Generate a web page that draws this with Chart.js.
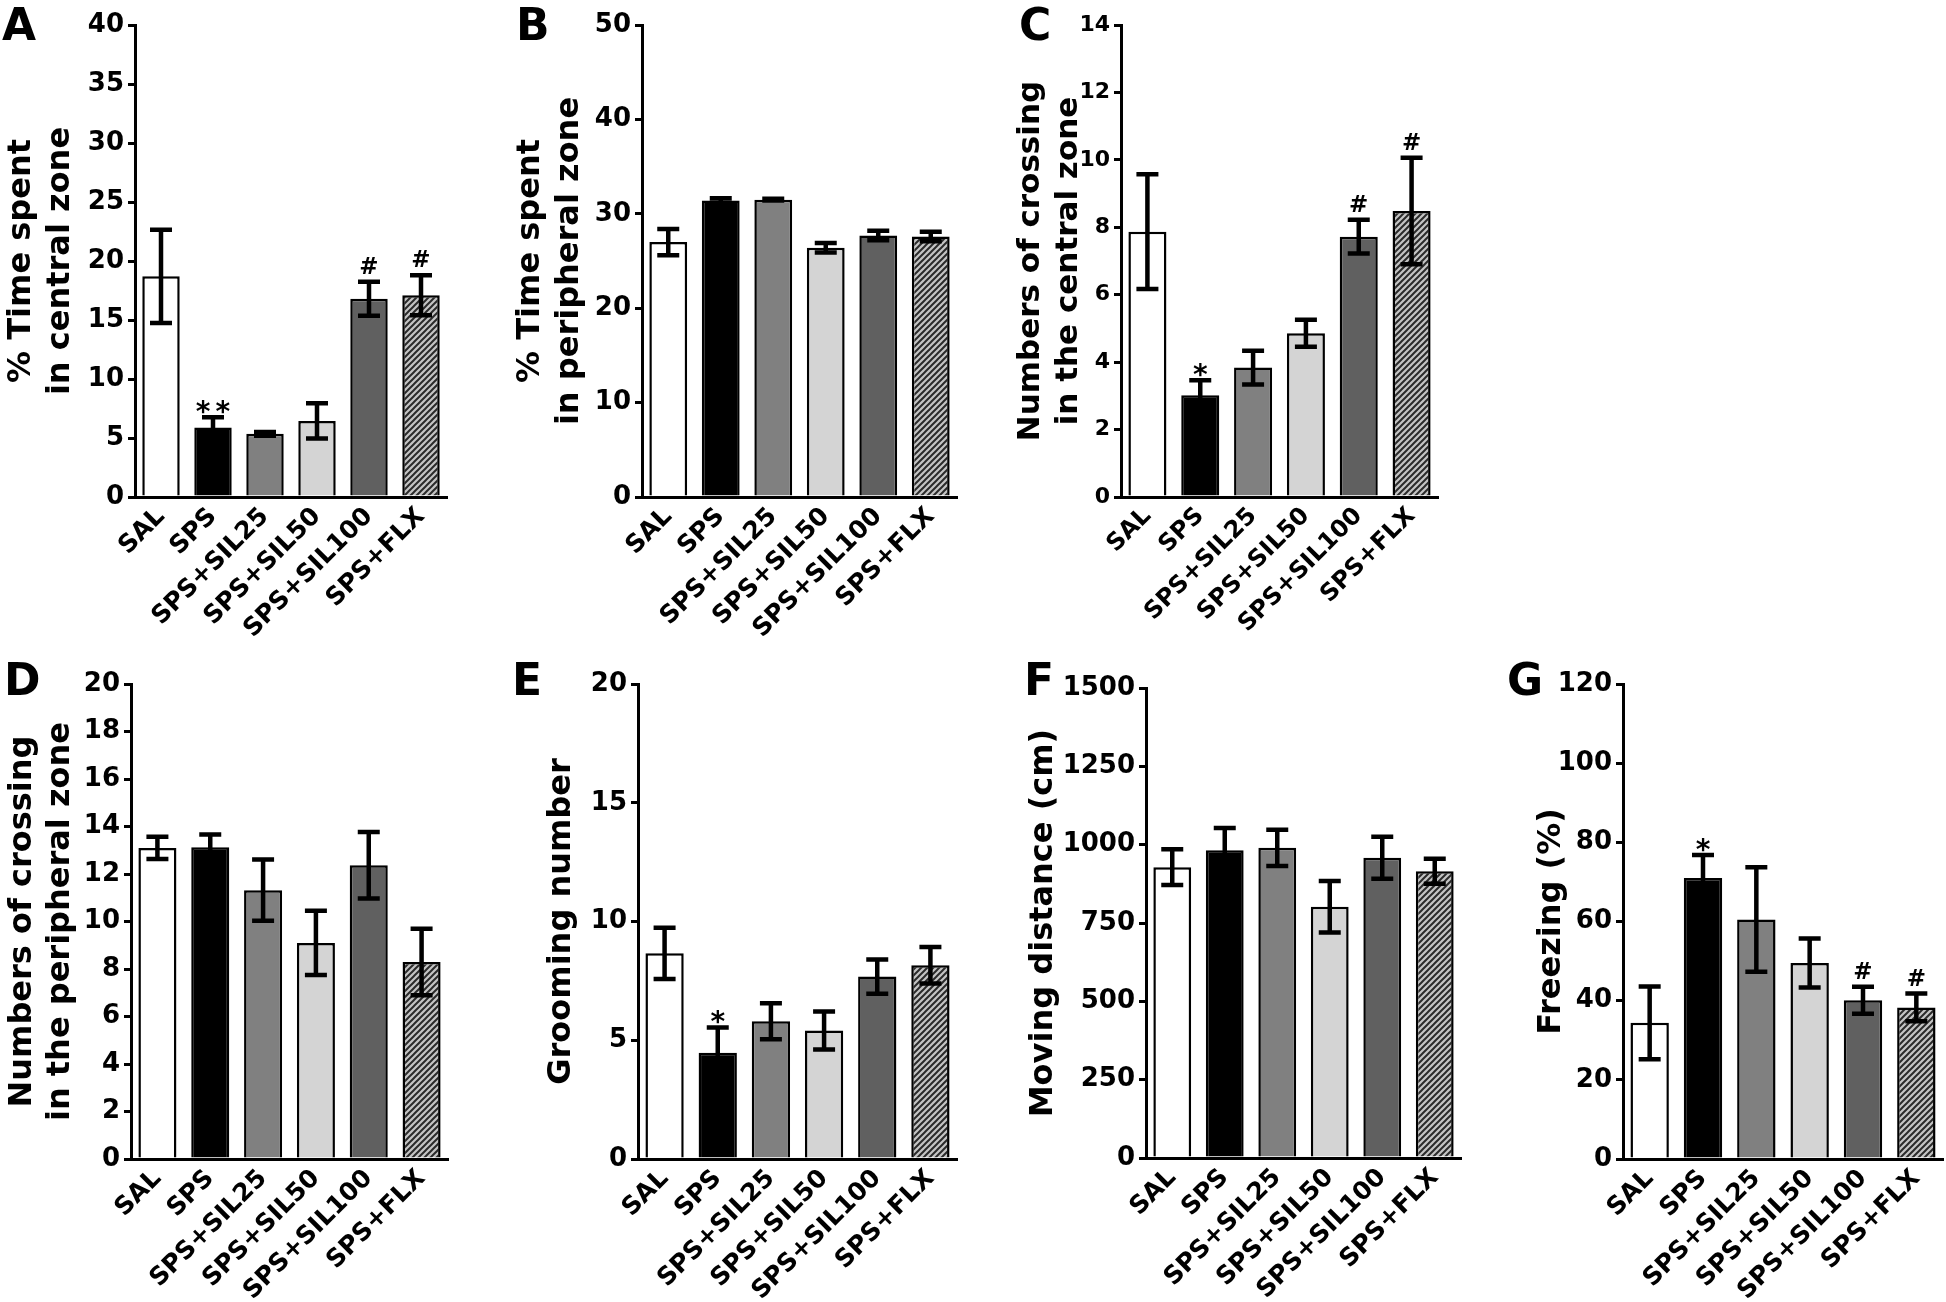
<!DOCTYPE html>
<html>
<head>
<meta charset="utf-8">
<title>SPS behaviour panels</title>
<script src="https://cdn.jsdelivr.net/npm/chart.js@4.4.1/dist/chart.umd.min.js"></script>
<style>
  html, body { margin: 0; padding: 0; background: #fff; }
  #figure { position: relative; width: 1946px; height: 1302px; overflow: hidden; background: #fff; }
  #figure canvas { position: absolute; }
</style>
</head>
<body>
<div id="figure">
  <canvas id="panel-a"></canvas>
  <canvas id="panel-b"></canvas>
  <canvas id="panel-c"></canvas>
  <canvas id="panel-d"></canvas>
  <canvas id="panel-e"></canvas>
  <canvas id="panel-f"></canvas>
  <canvas id="panel-g"></canvas>
</div>
<script>
'use strict';

// Groups (same for every panel)
const groups = ['SAL', 'SPS', 'SPS+SIL25', 'SPS+SIL50', 'SPS+SIL100', 'SPS+FLX'];

// A - % time spent in central zone
const centralTimeMean = [18.7, 5.9, 5.35, 6.45, 16.8, 17.1];
const centralTimeSem  = [3.95, 0.85, 0.15, 1.5, 1.45, 1.7];
const centralTimeSig  = ['', '**', '', '', '#', '#'];
const centralTimeTicks = [0, 40, 5];

// B - % time spent in peripheral zone
const peripheralTimeMean = [27.0, 31.4, 31.5, 26.4, 27.7, 27.6];
const peripheralTimeSem  = [1.4, 0.25, 0.1, 0.5, 0.5, 0.5];
const peripheralTimeSig  = ['', '', '', '', '', ''];
const peripheralTimeTicks = [0, 50, 10];

// C - crossings in the central zone
const centralCrossMean = [7.87, 3.02, 3.84, 4.86, 7.72, 8.48];
const centralCrossSem  = [1.7, 0.44, 0.5, 0.4, 0.5, 1.58];
const centralCrossSig  = ['', '*', '', '', '#', '#'];
const centralCrossTicks = [0, 14, 2];

// D - crossings in the peripheral zone
const peripheralCrossMean = [13.1, 13.13, 11.32, 9.1, 12.37, 8.3];
const peripheralCrossSem  = [0.47, 0.53, 1.29, 1.35, 1.4, 1.4];
const peripheralCrossSig  = ['', '', '', '', '', ''];
const peripheralCrossTicks = [0, 20, 2];

// E - grooming number
const groomingMean = [8.66, 4.47, 5.8, 5.41, 7.68, 8.16];
const groomingSem  = [1.08, 1.07, 0.76, 0.8, 0.72, 0.77];
const groomingSig  = ['', '*', '', '', '', ''];
const groomingTicks = [0, 20, 5];

// F - moving distance (cm)
const distanceMean = [928, 982, 990, 802, 958, 915];
const distanceSem  = [57, 71, 58, 82, 67, 40];
const distanceSig  = ['', '', '', '', '', ''];
const distanceTicks = [0, 1500, 250];

// G - freezing (%)
const freezingMean = [34.4, 71.0, 60.5, 49.5, 40.1, 38.3];
const freezingSem  = [9.2, 5.8, 13.2, 6.2, 3.4, 3.5];
const freezingSig  = ['', '*', '', '', '#', '#'];
const freezingTicks = [0, 120, 20];

const FONT = '"DejaVu Sans", Verdana, sans-serif';

/**
 * Diagonal hatch used for the fluoxetine bar.
 */
function makeHatch() {
    const size = 6;
    const c = document.createElement('canvas');
    c.width = size;
    c.height = size;
    const g = c.getContext('2d');
    g.fillStyle = '#c4c4c4';
    g.fillRect(0, 0, size, size);
    g.strokeStyle = '#2a2a2a';
    g.lineWidth = 2;
    g.beginPath();
    g.moveTo(0, size); g.lineTo(size, 0);
    g.moveTo(-2, 2); g.lineTo(2, -2);
    g.moveTo(size - 2, size + 2); g.lineTo(size + 2, size - 2);
    g.stroke();
    return g.createPattern(c, 'repeat');
}

const hatch = makeHatch();
const barFills = ['#ffffff', '#000000', '#808080', '#d4d4d4', '#606060', hatch];

/**
 * Mean +/- SEM whiskers, plus the significance marks above them.
 */
const errorBarPlugin = {
    id: 'errorBars',
    afterDatasetsDraw(chart, args, opts) {
        const ctx = chart.ctx;
        const y = chart.scales.y;
        const mean = chart.data.datasets[0].data;
        const meta = chart.getDatasetMeta(0);
        ctx.save();
        ctx.strokeStyle = '#000';
        ctx.lineWidth = 4.5;
        ctx.lineCap = 'butt';
        meta.data.forEach((bar, i) => {
            const top = y.getPixelForValue(mean[i] + opts.sem[i]);
            const bot = y.getPixelForValue(mean[i] - opts.sem[i]);
            const half = 11;
            ctx.beginPath();
            ctx.moveTo(bar.x, top);
            ctx.lineTo(bar.x, bot);
            ctx.moveTo(bar.x - half, top);
            ctx.lineTo(bar.x + half, top);
            ctx.moveTo(bar.x - half, bot);
            ctx.lineTo(bar.x + half, bot);
            ctx.stroke();

            const mark = opts.marks[i];
            if (!mark) return;
            ctx.fillStyle = '#000';
            ctx.textAlign = 'center';
            ctx.textBaseline = 'alphabetic';
            if (mark.charAt(0) === '*') {
                ctx.font = 'bold 28px ' + FONT;
                ctx.letterSpacing = mark.length > 1 ? '5px' : '0px';
                ctx.fillText(mark, bar.x + (mark.length > 1 ? 2.5 : 0), top + 4);
            } else {
                ctx.font = 'bold 23px ' + FONT;
                ctx.letterSpacing = '0px';
                ctx.fillText(mark, bar.x, top - 8);
            }
        });
        ctx.restore();
    }
};

/**
 * Panel letter in the top-left corner.
 */
const panelLetterPlugin = {
    id: 'panelLetter',
    afterDraw(chart, args, opts) {
        const ctx = chart.ctx;
        ctx.save();
        ctx.fillStyle = '#000';
        ctx.font = 'bold 44px ' + FONT;
        ctx.textAlign = 'left';
        ctx.textBaseline = 'alphabetic';
        ctx.fillText(opts.text, opts.x, opts.y);
        ctx.restore();
    }
};

/**
 * Build one bar panel. box = canvas [left, top, width, height] on the page,
 * plot = [axis x, plot top, plot right, plot bottom] on the page.
 */
function makePanel(p) {
    const canvas = document.getElementById(p.id);
    const [bx, by, bw, bh] = p.box;
    const [axisX, plotTop, plotRight, plotBottom] = p.plot;
    canvas.width = bw;
    canvas.height = bh;
    canvas.style.left = bx + 'px';
    canvas.style.top = by + 'px';

    const tickSize = p.tickSize || 26;
    const labelSize = p.labelSize || 25;
    const titleSize = p.titleSize || 32;
    const titleLH = p.titleLH || 39;

    return new Chart(canvas, {
        type: 'bar',
        data: {
            labels: groups,
            datasets: [{
                data: p.mean,
                backgroundColor: barFills,
                borderColor: '#000',
                borderWidth: 2.5,
                barPercentage: 0.72,
                categoryPercentage: 1
            }]
        },
        options: {
            responsive: false,
            animation: false,
            devicePixelRatio: 1,
            layout: {
                padding: { left: 0, top: plotTop - by, right: bx + bw - plotRight, bottom: 0 }
            },
            plugins: {
                legend: { display: false },
                tooltip: { enabled: false },
                errorBars: { sem: p.sem, marks: p.marks },
                panelLetter: { text: p.letter, x: p.letterAt[0] - bx, y: p.letterAt[1] - by }
            },
            scales: {
                x: {
                    grid: { display: false, drawTicks: false },
                    border: { color: '#000', width: 3 },
                    ticks: {
                        autoSkip: false,
                        minRotation: 45,
                        maxRotation: 45,
                        padding: 5,
                        color: '#000',
                        font: { family: FONT, size: labelSize, weight: 'bold' }
                    },
                    afterFit(scale) {
                        scale.height = by + bh - plotBottom;
                        scale.paddingLeft = 0;
                        scale.paddingRight = 0;
                    }
                },
                y: {
                    min: p.ticks[0],
                    max: p.ticks[1],
                    ticks: {
                        stepSize: p.ticks[2],
                        padding: 4,
                        color: '#000',
                        font: { family: FONT, size: tickSize, weight: 'bold' },
                        callback: v => String(v)
                    },
                    grid: { drawOnChartArea: false, color: '#000', lineWidth: 3, tickLength: 7 },
                    border: { color: '#000', width: 3 },
                    title: {
                        display: true,
                        text: p.title,
                        color: '#000',
                        font: { family: FONT, size: titleSize, weight: 'bold', lineHeight: titleLH / titleSize },
                        padding: { top: p.titleCenter - bx - titleLH / 2, bottom: 0 }
                    },
                    afterFit(scale) {
                        scale.width = axisX - bx;
                        scale.paddingTop = 0;
                        scale.paddingBottom = 0;
                    }
                }
            }
        },
        plugins: [errorBarPlugin, panelLetterPlugin]
    });
}

makePanel({
    id: 'panel-a', letter: 'A', letterAt: [2, 40],
    box: [0, 0, 460, 660], plot: [135, 25, 447, 497],
    title: ['% Time spent', 'in central zone'], titleCenter: 22,
    mean: centralTimeMean, sem: centralTimeSem, marks: centralTimeSig, ticks: centralTimeTicks
});

makePanel({
    id: 'panel-b', letter: 'B', letterAt: [516, 40],
    box: [505, 0, 465, 660], plot: [642, 25, 957, 497],
    title: ['% Time spent', 'in peripheral zone'], titleCenter: 531,
    mean: peripheralTimeMean, sem: peripheralTimeSem, marks: peripheralTimeSig, ticks: peripheralTimeTicks
});

makePanel({
    id: 'panel-c', letter: 'C', letterAt: [1019, 40],
    box: [1005, 0, 450, 660], plot: [1121, 25, 1438, 497],
    title: ['Numbers of crossing', 'in the central zone'], titleCenter: 1031, titleSize: 31, titleLH: 38,
    tickSize: 22, labelSize: 24,
    mean: centralCrossMean, sem: centralCrossSem, marks: centralCrossSig, ticks: centralCrossTicks
});

makePanel({
    id: 'panel-d', letter: 'D', letterAt: [4, 695],
    box: [0, 640, 460, 662], plot: [131, 684, 448, 1159],
    title: ['Numbers of crossing', 'in the peripheral zone'], titleCenter: 23, titleLH: 38,
    mean: peripheralCrossMean, sem: peripheralCrossSem, marks: peripheralCrossSig, ticks: peripheralCrossTicks
});

makePanel({
    id: 'panel-e', letter: 'E', letterAt: [512, 695],
    box: [505, 640, 465, 662], plot: [638, 684, 957, 1159],
    title: 'Grooming number', titleCenter: 562, titleLH: 38,
    mean: groomingMean, sem: groomingSem, marks: groomingSig, ticks: groomingTicks
});

makePanel({
    id: 'panel-f', letter: 'F', letterAt: [1024, 695],
    box: [990, 640, 480, 662], plot: [1146, 688, 1461, 1158],
    title: 'Moving distance (cm)', titleCenter: 1044, titleLH: 38,
    mean: distanceMean, sem: distanceSem, marks: distanceSig, ticks: distanceTicks
});

makePanel({
    id: 'panel-g', letter: 'G', letterAt: [1507, 695],
    box: [1470, 640, 476, 662], plot: [1623, 684, 1943, 1159],
    title: 'Freezing (%)', titleCenter: 1552, titleLH: 38,
    mean: freezingMean, sem: freezingSem, marks: freezingSig, ticks: freezingTicks
});
</script>
</body>
</html>
